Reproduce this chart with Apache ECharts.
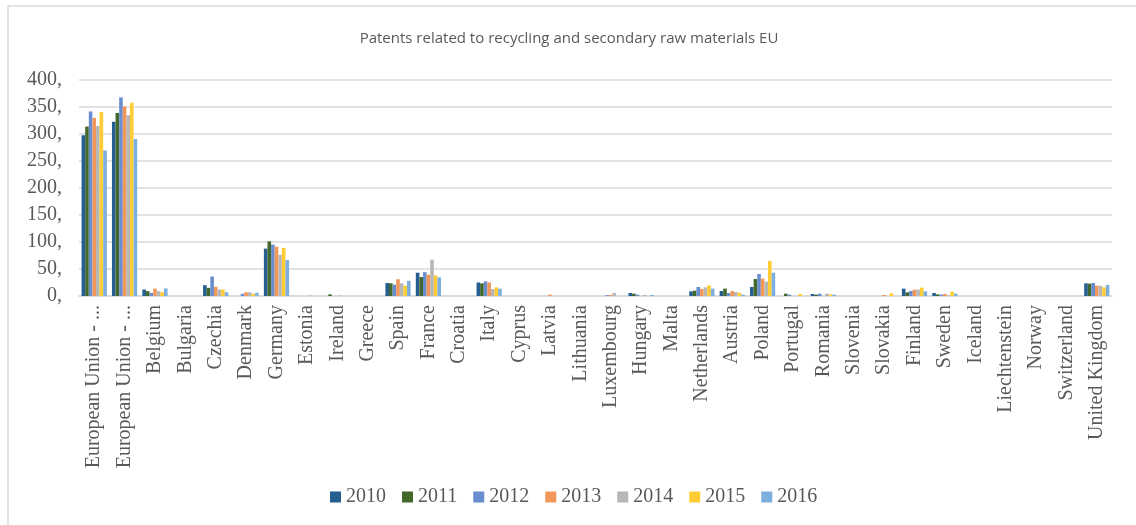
<!DOCTYPE html>
<html>
<head>
<meta charset="utf-8">
<script src="https://cdn.jsdelivr.net/npm/echarts@6/dist/echarts.min.js"></script>
<style>
html,body{margin:0;padding:0;background:#fff;}
#chart{width:1136px;height:525px;}
</style>
</head>
<body>
<div id="chart"></div>
<script>
const titleText = "Patents related to recycling and secondary raw materials EU";
const categories = ["European Union - ...", "European Union - ...", "Belgium", "Bulgaria", "Czechia", "Denmark", "Germany", "Estonia", "Ireland", "Greece", "Spain", "France", "Croatia", "Italy", "Cyprus", "Latvia", "Lithuania", "Luxembourg", "Hungary", "Malta", "Netherlands", "Austria", "Poland", "Portugal", "Romania", "Slovenia", "Slovakia", "Finland", "Sweden", "Iceland", "Liechtenstein", "Norway", "Switzerland", "United Kingdom"];
const years = ["2010", "2011", "2012", "2013", "2014", "2015", "2016"];
const v2010 = [297, 322, 12, 0, 20, 0, 87.5, 0, 0, 0, 24, 43, 0, 25, 0, 0, 0, 0, 5.5, 0, 8.6, 9.2, 16.6, 0, 3.7, 0, 0, 13.6, 5.5, 0, 0, 0, 0, 23.4];
const v2011 = [313, 338, 9, 0, 15, 0, 101, 0, 3, 0, 23.4, 35, 0, 23.4, 0, 0, 0, 0, 4.3, 0, 9.9, 13.6, 31.4, 4.3, 2.5, 0, 0, 6.8, 3, 0, 0, 0, 0, 22.8];
const v2012 = [341, 367, 5.5, 0, 36, 4, 95, 0, 0, 0, 21, 44, 0, 27, 0, 0, 0, 1.5, 2.5, 0, 16.6, 5.5, 40.7, 2.5, 4.3, 0, 0, 9.2, 2.5, 0, 0, 0, 0, 24];
const v2013 = [329, 350, 13.5, 0, 17, 7, 91, 0, 0, 0, 31, 39.4, 0, 25, 0, 2.5, 0, 2, 0, 0, 13, 9.2, 32, 0, 0, 0, 2, 11.7, 3.7, 0, 0, 0, 0, 19];
const v2014 = [314, 334, 9, 0, 12, 7, 76, 1, 1, 0, 23.4, 67, 0, 13, 0, 0, 0, 5.5, 2, 0, 16, 7.4, 26.5, 0, 4.3, 0, 0, 11.7, 1, 0, 0, 0, 0, 19];
const v2015 = [340, 357, 7, 0, 12, 4, 89, 0, 0, 0, 19, 38, 0, 16, 0, 0, 0, 0, 0, 0, 19.7, 6, 64.7, 3.7, 3, 0, 5, 15.4, 8, 0, 0, 0, 0, 16];
const v2016 = [269, 290, 14, 0, 7, 6, 66.5, 0, 0, 0, 28, 34.5, 0, 13.5, 0, 0, 0, 0, 2, 0, 13.6, 2.5, 43, 0, 2.5, 0, 0, 8.6, 4.3, 0, 0, 0, 0, 20.3];
const yTicks = { min: 0, max: 400, interval: 50 };

const seriesValues = [v2010, v2011, v2012, v2013, v2014, v2015, v2016];
const colors = ["#255e91", "#43682b", "#698ed0", "#f1975a", "#b7b7b7", "#ffcd33", "#7cafdd"];
const serif = "'Liberation Serif', 'DejaVu Serif', serif";

const chart = echarts.init(document.getElementById('chart'), null, { renderer: 'canvas' });
chart.setOption({
  animation: false,
  backgroundColor: '#ffffff',
  color: colors,
  title: {
    text: titleText,
    left: 564, top: 26, textAlign: 'center',
    textStyle: { fontFamily: "'Open Sans', 'Liberation Sans', sans-serif", fontSize: 15, fontWeight: 'normal', color: '#595959' }
  },
  graphic: [{
    type: 'rect', silent: true, z: -1,
    shape: { x: 8, y: 6, width: 1300, height: 700 },
    style: { fill: 'none', stroke: '#d9d9d9', lineWidth: 1.5 }
  }],
  legend: {
    data: years,
    top: 482,
    left: 325,
    itemWidth: 11, itemHeight: 11, itemGap: 16,
    icon: 'rect',
    textStyle: { fontFamily: serif, fontSize: 20, color: '#595959', padding: [0, 0, 0, 0] }
  },
  grid: { left: 79, right: 24, top: 79.5, bottom: 229, containLabel: false },
  xAxis: {
    type: 'category',
    data: categories,
    axisLine: { lineStyle: { color: '#d9d9d9', width: 1.5 } },
    axisTick: { show: false },
    axisLabel: { interval: 0, rotate: 90, margin: 9, padding: [8, 0, 0, 0], fontFamily: serif, fontSize: 20, color: '#595959' }
  },
  yAxis: {
    type: 'value',
    min: yTicks.min, max: yTicks.max, interval: yTicks.interval,
    axisLine: { show: false },
    axisTick: { show: false },
    splitLine: { lineStyle: { color: '#d9d9d9', width: 1.5 } },
    axisLabel: { margin: 17, fontFamily: serif, fontSize: 20, color: '#595959', formatter: v => v + ',' }
  },
  series: years.map((y, i) => ({
    name: y,
    type: 'bar',
    data: seriesValues[i],
    barGap: '0%',
    barCategoryGap: '17%',
    itemStyle: { color: colors[i] }
  }))
});
</script>
</body>
</html>
